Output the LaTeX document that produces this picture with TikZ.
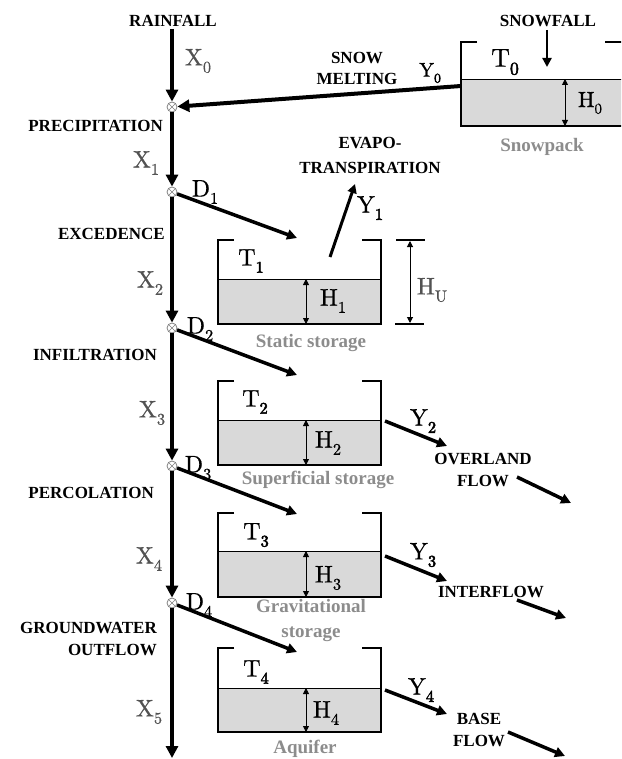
\documentclass[tikz,border=0pt]{standalone}
\usepackage{fontspec}
\setmainfont{Liberation Serif}
\newfontfamily\symfont{lmroman10-regular.otf}[FakeBold=0.7]
\newfontfamily\symbfont{lmroman10-regular.otf}[FakeBold=3]
\usetikzlibrary{arrows.meta}
\definecolor{waterc}{gray}{0.85}
\definecolor{storec}{gray}{0.55}
\definecolor{xc}{gray}{0.32}
\newcommand\drawtank[5]{%
  \fill[waterc] (#1,#4) rectangle (#2,#5);
  \draw[line width=0.8pt] (#1,#4) -- (#2,#4);
  \draw[wall] (#1+16,#3) -- (#1,#3) -- (#1,#5) -- (#2,#5) -- (#2,#3) -- (#2-19,#3);
}
\newcommand\hdim[3]{\draw[dimarrow] (#1,#2) -- (#1,#3);}
\newcommand\lsub[1]{\raisebox{-0.3em}{\scalebox{0.68}{#1}}}
\newcommand\lsubb[1]{\raisebox{-0.3em}{\scalebox{0.68}{\symbfont #1}}}
\begin{document}
\begin{tikzpicture}[x=1pt,y=-1pt,
  flow/.style={line width=4pt,-{Triangle[length=12pt,width=12pt]}},
  yflow/.style={line width=3.5pt,-{Triangle[length=10pt,width=10pt]}},
  wall/.style={line width=2.5pt},
  dimarrow/.style={line width=0.8pt,{Triangle[length=6pt,width=6pt]}-{Triangle[length=6pt,width=6pt]}},
  junc/.style={circle,draw=gray,fill=white,line width=0.8pt,inner sep=0pt,minimum size=10pt,
    path picture={\draw[gray,line width=0.6pt] (path picture bounding box.north west)--(path picture bounding box.south east)
      (path picture bounding box.north east)--(path picture bounding box.south west);}},
  caplbl/.style={font=\fontsize{17}{22.5}\selectfont\bfseries,inner sep=0pt},
  stor/.style={font=\fontsize{19}{25}\selectfont\bfseries,text=storec,inner sep=0pt},
  sym/.style={font=\fontsize{24}{24}\symfont,inner sep=0pt},
  xsym/.style={sym,text=xc},
  ysym/.style={sym},
]
\useasboundingbox (0,0) rectangle (621,759);
\clip (0,0) rectangle (621,759);

% tanks
\drawtank{461}{624}{42}{79}{126}
\drawtank{218}{381}{240}{279}{324}
\drawtank{218}{381}{381}{420}{465}
\drawtank{218}{381}{513}{551}{597}
\drawtank{218}{381}{648}{688}{732}
\hdim{565}{79}{126}
\hdim{306}{279}{324}
\hdim{306}{420}{465}
\hdim{306}{551}{597}
\hdim{306}{688}{732}
% HU dimension
\draw[line width=2pt] (396,240) -- (425,240) (395,324) -- (424,324);
\draw[dimarrow,line width=1pt] (410,241) -- (410,323);

% junctions
\node[junc] (c0) at (172,107) {};
\node[junc] (c1) at (172,192) {};
\node[junc] (c2) at (172,328) {};
\node[junc] (c3) at (172,466) {};
\node[junc] (c4) at (172,603) {};
\coordinate (top) at (172,29);
\coordinate (bot) at (172,758);
\coordinate (t0w) at (461,86);

% main line
\draw[flow] (top) -- (c0);
\draw[flow] (c0) -- (c1);
\draw[flow] (c1) -- (c2);
\draw[flow] (c2) -- (c3);
\draw[flow] (c3) -- (c4);
\draw[flow] (c4) -- (bot);
\draw[flow] (t0w) -- (c0);

% drainage arrows
\coordinate (d1t) at (297,238);
\coordinate (d2t) at (297,375);
\coordinate (d3t) at (297,514);
\coordinate (d4t) at (297,652);
\draw[yflow] (c1) -- (d1t);
\draw[yflow] (c2) -- (d2t);
\draw[yflow] (c3) -- (d3t);
\draw[yflow] (c4) -- (d4t);

% outflows
\coordinate (e0) at (330,257);
\coordinate (e1) at (355,184);
\draw[line width=3pt,-{Triangle[length=9pt,width=9pt]}] (e0) -- (e1);
\coordinate (s0) at (547,30);
\coordinate (s1) at (547,67);
\draw[line width=2.5pt,-{Triangle[length=9pt,width=9pt]}] (s0) -- (s1);
\coordinate (y2a) at (385,421);
\coordinate (y2b) at (447,446);
\coordinate (y3a) at (385,556);
\coordinate (y3b) at (447,581);
\coordinate (y4a) at (385,690);
\coordinate (y4b) at (447,714);
\draw[yflow] (y2a) -- (y2b);
\draw[yflow] (y3a) -- (y3b);
\draw[yflow] (y4a) -- (y4b);
\coordinate (o1a) at (517,477);
\coordinate (o1b) at (571,503);
\coordinate (o2a) at (517,600);
\coordinate (o2b) at (566,618);
\coordinate (o3a) at (508,732);
\coordinate (o3b) at (565,756);
\draw[yflow] (o1a) -- (o1b);
\draw[yflow] (o2a) -- (o2b);
\draw[yflow] (o3a) -- (o3b);

% labels
\node[caplbl] (rain) at (173,21) {RAINFALL};
\node[caplbl] (snowf) at (548,21) {SNOWFALL};
\node[caplbl,align=center,font=\fontsize{17}{21}\selectfont\bfseries] (melt) at (357,68) {SNOW\\MELTING};
\node[caplbl,anchor=east] (prec) at (163,126) {PRECIPITATION};
\node[caplbl,anchor=east] (exc) at (165,234) {EXCEDENCE};
\node[caplbl,anchor=east] (inf) at (157,355) {INFILTRATION};
\node[caplbl,anchor=east] (perc) at (154,493) {PERCOLATION};
\node[caplbl,anchor=east,align=right] (gw) at (157,639) {GROUNDWATER\\OUTFLOW};
\node[caplbl,align=center,font=\fontsize{17}{25}\selectfont\bfseries] (evap) at (370,155) {EVAPO-\\TRANSPIRATION};
\node[caplbl,align=center] (over) at (483,470) {OVERLAND\\FLOW};
\node[caplbl] (inter) at (491,592) {INTERFLOW};
\node[caplbl,align=center] (base) at (479,730) {BASE\\FLOW};

\node[stor] (snp) at (542,147) {Snowpack};
\node[stor] (sts) at (311,343) {Static storage};
\node[stor] (sus) at (318,480) {Superficial storage};
\node[stor,align=center] (grs) at (311,620) {Gravitational\\storage};
\node[stor] (aqu) at (305,749) {Aquifer};

\node[xsym] at (198,61) {X\lsub{0}};
\node[xsym] at (146,163) {X\lsub{1}};
\node[xsym] at (150,283) {X\lsub{2}};
\node[xsym] at (152,413) {X\lsub{3}};
\node[xsym] at (149,559) {X\lsub{4}};
\node[xsym] at (149,712) {X\lsub{5}};

\node[sym] at (205,192) {D\lsub{1}};
\node[sym] at (200,329) {D\lsub{2}};
\node[sym] at (198,468) {D\lsub{3}};
\node[sym] at (199,605) {D\lsub{4}};

\node[ysym,font=\fontsize{20}{20}\symfont] at (430,73) {Y\lsubb{0}};
\node[ysym] at (370,208) {Y\lsubb{1}};
\node[ysym] at (423,421) {Y\lsubb{2}};
\node[ysym] at (423,555) {Y\lsubb{3}};
\node[ysym] at (421,690) {Y\lsubb{4}};

\node[sym,font=\fontsize{26}{26}\symfont] at (505,62) {T\lsubb{0}};
\node[sym] at (251,261) {T\lsubb{1}};
\node[sym] at (255,402) {T\lsubb{2}};
\node[sym] at (256,535) {T\lsubb{3}};
\node[sym] at (256,672) {T\lsubb{4}};

\node[sym,font=\fontsize{22}{22}\symfont] at (590,103) {H\lsub{0}};
\node[sym] at (333,301) {H\lsub{1}};
\node[sym] at (328,443) {H\lsub{2}};
\node[sym] at (328,578) {H\lsub{3}};
\node[sym] at (326,713) {H\lsub{4}};
\node[xsym] at (432,290) {H\lsub{U}};
\end{tikzpicture}
\end{document}
